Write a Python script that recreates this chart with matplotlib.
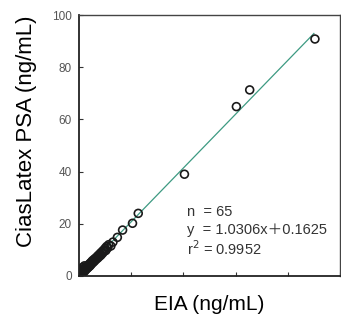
import matplotlib
matplotlib.use("Agg")
import matplotlib.pyplot as plt
import numpy as np

# EIA (x) vs CiasLatex PSA (y)
eia = [0.3, 0.5, 0.6, 0.8, 0.9, 1.0, 1.1, 1.2, 1.3, 1.5, 1.6, 1.8, 1.9, 2.0,
       2.2, 2.3, 2.5, 2.6, 2.8, 3.0, 3.1, 3.3, 3.5, 3.6, 3.8, 4.0, 4.2, 4.4,
       4.6, 4.8, 5.0, 5.2, 5.5, 5.8, 6.0, 6.3, 6.6, 6.9, 7.2, 7.5, 7.8, 8.1,
       8.4, 8.7, 9.0, 9.3, 9.6, 10.0, 10.3, 10.6, 11.0, 11.4, 12.2, 13.0,
       14.7, 16.7, 20.5, 22.7, 40.4, 60.3, 65.4, 90.4, 0.4, 1.4, 2.1]
latex = [0.4, 0.7, 1.2, 0.6, 1.5, 1.0, 2.0, 1.3, 2.4, 1.4, 2.2, 1.7, 2.8, 2.3,
         1.9, 3.0, 2.4, 3.4, 2.7, 3.4, 2.9, 3.8, 3.3, 4.2, 3.6, 4.6, 3.9, 5.0,
         4.4, 5.4, 4.9, 5.9, 5.3, 6.4, 5.8, 6.8, 6.4, 7.4, 6.9, 8.0, 7.5, 8.6,
         8.0, 9.2, 8.7, 9.8, 9.4, 10.6, 9.8, 11.3, 10.8, 12.0, 11.5, 13.0,
         14.8, 17.6, 20.2, 24.0, 39.0, 64.9, 71.3, 90.8, 1.8, 3.3, 3.9]

slope = 1.0306
intercept = 0.1625
fit_x = [0, 90]
y_ticks = [0, 20, 40, 60, 80, 100]
x_ticks = [0, 20, 40, 60, 80, 100]
stats_lines = ["n  = 65", "y  = 1.0306x\uff0b0.1625", "r$^2$ = 0.9952"]

plt.rcParams["font.family"] = ["Liberation Sans", "Noto Sans CJK JP", "DejaVu Sans"]

fig = plt.figure(figsize=(3.41, 3.16), dpi=100)
ax = fig.add_axes([79 / 341, 40 / 316, 261 / 341, 261 / 316])

fx = np.array(fit_x)
ax.plot(fx, slope * fx + intercept, color="#3d9a82", lw=0.9, zorder=1)
ax.scatter(eia, latex, s=32, facecolors="none", edgecolors="#1a1a1a",
           linewidths=1.2, zorder=2)

ax.set_xlim(0, 100)
ax.set_ylim(0, 100)
ax.set_yticks(y_ticks)
ax.set_xticks(x_ticks)
ax.set_xticklabels([])
ax.tick_params(direction="in", length=3, width=0.8, color="#333333",
               labelsize=8.5, labelcolor="#555555", pad=5)
for side in ["left", "bottom"]:
    ax.spines[side].set_linewidth(1.3)
    ax.spines[side].set_color("#222222")
for side in ["top", "right"]:
    ax.spines[side].set_linewidth(1.0)
    ax.spines[side].set_color("#444444")

ax.set_ylabel("CiasLatex PSA (ng/mL)", fontsize=16)
ax.yaxis.set_label_coords(-0.16, 0.555)
ax.set_xlabel("EIA (ng/mL)", fontsize=15, labelpad=9)

for i, line in enumerate(stats_lines):
    ax.text(41.5, 24.5 - i * 7, line, fontsize=10.5, color="#333333",
            ha="left", va="center")

fig.savefig("out.png", dpi=100)
